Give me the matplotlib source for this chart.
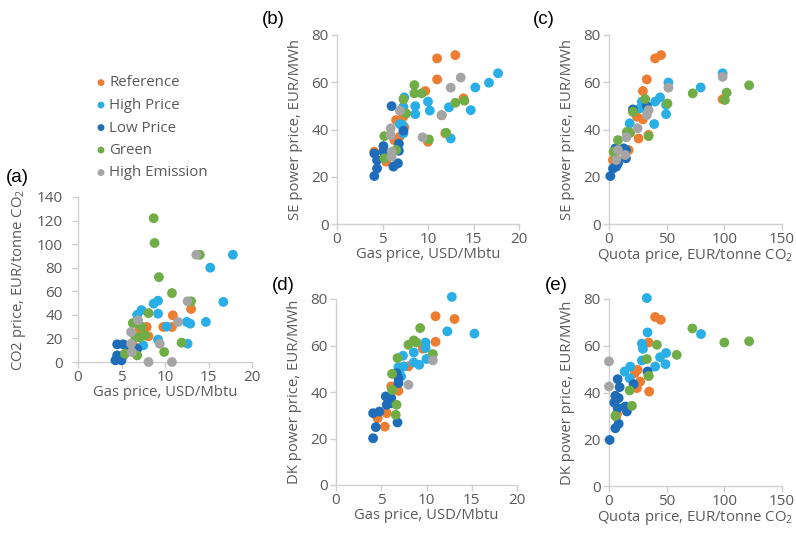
import matplotlib
matplotlib.use("Agg")
import matplotlib.pyplot as plt

plt.rcParams['font.family'] = ['Open Sans', 'DejaVu Sans']
plt.rcParams['mathtext.fontset'] = 'custom'
plt.rcParams['mathtext.rm'] = 'Open Sans'
plt.rcParams['mathtext.it'] = 'Open Sans'

scenarios = ['Reference', 'High Price', 'Low Price', 'Green', 'High Emission']
colors = ['#ED7D31', '#29AEE6', '#1F6DB8', '#70AD47', '#A5A5A5']

# (a) gas price vs CO2 price
a_data = {
    'Reference': ([13.0, 10.9, 10.8, 9.8, 8.1, 7.9, 7.1, 6.6],
                  [45, 39.6, 29.7, 29.7, 21.8, 29.7, 28, 12.7]),
    'High Price': ([17.8, 15.2, 16.7, 8.7, 9.2, 9.2, 7.3, 6.8, 10.2, 12.5, 12.9, 14.7, 12.6, 9.2, 7.5],
                   [91, 80, 51, 49.5, 52, 41, 44, 40, 30, 34, 32.5, 34, 15.5, 19, 14.1]),
    'Low Price': ([4.5, 5.2, 4.5, 5.2, 4.3, 5.0, 6.8, 6.0],
                  [15, 15, 5.6, 5.6, 1.4, 1.4, 11, 10]),
    'Green': ([8.7, 8.8, 9.3, 14.0, 10.8, 13.0, 8.1, 6.3, 6.8, 7.3, 6.6, 7.1, 7.7, 11.9, 9.9, 5.4, 6.8],
              [122, 101, 72, 91, 58.5, 51.5, 41.5, 33, 33, 30, 21, 21, 22.6, 16.4, 8.5, 7, 5.6]),
    'High Emission': ([13.6, 12.6, 11.5, 6.9, 6.1, 9.4, 6.1, 6.2, 8.1, 10.8],
                      [91, 51.5, 34, 35.4, 25.4, 15.5, 15.5, 8.5, 0, 0]),
}

# (b) gas price vs SE power price
b_data = {
    'Reference': ([11.0, 13.0, 11.0, 9.7, 13.9, 11.5, 10.0, 11.9, 6.5, 7.3, 7.4, 6.3, 6.9, 5.4, 5.4, 4.1],
                  [70.1, 71.5, 61.2, 56.3, 53.2, 46, 34.8, 38.4, 44, 45.4, 41, 35.5, 37, 30, 26.4, 30.6]),
    'High Price': ([17.7, 16.7, 15.2, 14.7, 12.3, 12.5, 10.0, 10.2, 8.6, 8.6, 7.4, 7.3, 6.9, 7.2, 7.3],
                   [63.8, 59.8, 57.8, 48.2, 49.4, 36.2, 51.8, 48, 49.9, 46.5, 53.6, 49.6, 42.3, 41.9, 38.4]),
    'Low Price': ([6.0, 7.3, 6.8, 6.8, 6.7, 6.2, 5.1, 5.1, 4.1, 4.4, 4.4, 4.1],
                  [49.9, 39.5, 34, 31, 25.7, 24.3, 33, 30.6, 29.9, 27, 23.5, 20.3]),
    'Green': ([8.5, 8.5, 9.3, 7.3, 7.6, 5.2, 5.2, 6.5, 10.1, 12.0, 13.0, 14.0],
              [58.8, 55.3, 55.3, 52.8, 46.8, 27.8, 37.2, 31.3, 35.8, 38.6, 51.3, 52.2]),
    'High Emission': ([13.6, 12.5, 11.5, 9.4, 5.9, 6.9, 6.0, 6.0, 5.9],
                      [62, 57.7, 46.1, 36.7, 40.5, 48, 30.6, 28.5, 37.6]),
}

# (c) quota price vs SE power price
c_data = {
    'Reference': ([40, 45.2, 32.8, 29.4, 98.5, 24.2, 29.4, 25.6, 34.3, 8.4, 17, 3.5],
                  [70.1, 71.5, 61.2, 56.3, 52.8, 45.4, 44.3, 36.2, 37.7, 31.3, 31.3, 27.1]),
    'High Price': ([98.5, 79.5, 51.5, 49.5, 49.5, 44.3, 40, 39.2, 28.5, 27, 17.9],
                   [63.8, 57.8, 59.9, 50.4, 46.5, 53.6, 51.8, 42.3, 51.8, 49, 42.6]),
    'Low Price': ([20.7, 32.8, 5.5, 12.7, 14.7, 6.3, 1.2, 3.5, 7.8, 14.7],
                  [48.5, 49.9, 32, 32, 27.8, 24.3, 20.3, 23.5, 25.7, 31.3]),
    'Green': ([31.4, 20.7, 7.8, 15.5, 18.4, 34.3, 4, 6.3, 50.7, 72.6, 100.5, 102, 121.5],
              [52.9, 47.5, 35.5, 39, 38.6, 37.2, 30.6, 27.4, 51, 55.3, 52.5, 55.6, 58.7]),
    'High Emission': ([98.5, 51.5, 34.3, 32.8, 24.8, 15, 7.8, 14.1, 6.3],
                      [62.3, 57.7, 48.2, 46.1, 40.5, 36.7, 31.3, 29.2, 27.1]),
}

# (d) gas price vs DK power price
d_data = {
    'Reference': ([11.0, 13.1, 11.0, 9.6, 8.0, 6.1, 6.9, 5.6, 4.6, 5.4],
                  [72.6, 71.4, 61.6, 58.6, 51, 42.4, 40.5, 30.9, 28.7, 25.1]),
    'High Price': ([12.8, 12.3, 15.3, 9.9, 9.9, 8.6, 10.0, 8.6, 9.2, 7.4, 6.9, 7.5, 7.0, 7.2],
                   [80.9, 66.1, 65.1, 61.3, 58.9, 57, 54.2, 52.7, 51.7, 55.6, 50.7, 51, 48.9, 46.7]),
    'Low Price': ([4.1, 4.4, 6.8, 4.1, 4.8, 5.6, 5.5, 6.1, 6.1, 6.9, 6.9, 6.7],
                  [20.1, 24.9, 26.9, 30.9, 31.6, 34.5, 38.1, 37.4, 35.2, 43.8, 46, 48.1]),
    'Green': ([9.3, 8.0, 8.6, 8.9, 10.7, 6.8, 6.2, 6.2, 6.7, 6.6],
              [67.5, 60.3, 62.2, 61.3, 56.3, 54.6, 47.8, 40.9, 34.5, 30.2]),
    'High Emission': ([8.0, 10.7],
                      [43.1, 53.6]),
}

# (e) quota price vs DK power price
e_data = {
    'Reference': ([40, 44.9, 34.3, 24.8, 22.5, 27, 34.3, 34.8, 24.2, 6.9, 6.3],
                  [72.3, 71.1, 61.4, 49.7, 48.3, 44.7, 47.1, 40.4, 41.9, 30.9, 29.7]),
    'High Price': ([32.8, 33.4, 79.8, 28.5, 29.4, 28.5, 44.3, 49.5, 49, 40, 18.4, 13.5, 17.9],
                   [80.4, 65.7, 65, 60.9, 58.7, 53.7, 55.1, 56.9, 52.1, 51.1, 51.1, 49, 46.1]),
    'Low Price': ([0.6, 5.5, 8.4, 7.5, 9.2, 5.5, 8.4, 4.6, 7.5, 15.5, 14.1, 21.3, 33.4],
                  [19.7, 24.7, 26.6, 45.7, 42.3, 38.6, 37.6, 35.7, 33.3, 31.9, 34, 43.6, 49]),
    'Green': ([72.3, 100, 121.5, 58.7, 41.5, 32.8, 34.3, 17.9, 19.9, 5.5],
              [67.4, 61.4, 61.9, 56.1, 60.4, 54.3, 47.1, 40.9, 34.3, 30]),
    'High Emission': ([0, 0],
                      [53.3, 42.6]),
}

gas_label = 'Gas price, USD/Mbtu'
quota_label = 'Quota price, EUR/tonne CO$_2$'
se_label = 'SE power price, EUR/MWh'
dk_label = 'DK power price, EUR/MWh'
co2_label = 'CO2 price, EUR/tonne CO$_2$'

txt = '#595959'
grid_c = '#D0D0D0'

fig = plt.figure(figsize=(7.96, 5.33), dpi=100)
W, H = 796, 533


def make_ax(x0, y0, x1, y1):
    return fig.add_axes([x0 / W, 1 - y1 / H, (x1 - x0) / W, (y1 - y0) / H])


def style(ax, data, xmax, xstep, ymax, ystep, xlabel, ylabel, ypad=2):
    for name, col in zip(scenarios, colors):
        xs, ys = data[name]
        ax.scatter(xs, ys, s=50, color=col, edgecolors='none', label=name, zorder=3,
                   clip_on=False)
    ax.set_xlim(0, xmax)
    ax.set_ylim(0, ymax)
    ax.set_xticks(range(0, xmax + 1, xstep))
    ax.set_yticks(range(0, ymax + 1, ystep))
    for s in ['top', 'right']:
        ax.spines[s].set_visible(False)
    for s in ['left', 'bottom']:
        ax.spines[s].set_color(grid_c)
        ax.spines[s].set_linewidth(1)
    ax.tick_params(colors=grid_c, labelcolor=txt, labelsize=11, length=4, width=1, pad=2)
    ax.tick_params(axis='y', pad=ypad)
    ax.set_xlabel(xlabel, color=txt, fontsize=10.7, labelpad=0)
    ax.set_ylabel(ylabel, color=txt, fontsize=10.7, labelpad=6)


ax_a = make_ax(78, 197, 252, 362)
style(ax_a, a_data, 20, 5, 140, 20, gas_label, co2_label, ypad=7)
ax_b = make_ax(337, 35, 519, 224)
style(ax_b, b_data, 20, 5, 80, 20, gas_label, se_label)
ax_c = make_ax(609, 35, 782, 224)
style(ax_c, c_data, 150, 50, 80, 20, quota_label, se_label)
ax_d = make_ax(336, 299, 517, 485)
style(ax_d, d_data, 20, 5, 80, 20, gas_label, dk_label)
ax_e = make_ax(609, 299, 782, 486)
style(ax_e, e_data, 150, 50, 80, 20, quota_label, dk_label)

panel_labels = [('(a)', 6, 177), ('(b)', 262, 19), ('(c)', 533, 19),
                ('(d)', 272, 285), ('(e)', 545, 285)]
for lab, px, py in panel_labels:
    fig.text(px / W, 1 - py / H, lab, fontsize=13.5, family='Liberation Sans',
             color='black', va='center', ha='left')

handles, labels = ax_a.get_legend_handles_labels()
fig.legend(handles, labels, loc='upper left', bbox_to_anchor=(86 / W, 1 - 68 / H),
           frameon=False, fontsize=10.8, labelcolor=txt, handletextpad=0.05,
           handlelength=1.0, labelspacing=0.5, markerscale=0.7, borderpad=0)

fig.savefig('out.png', dpi=100)
